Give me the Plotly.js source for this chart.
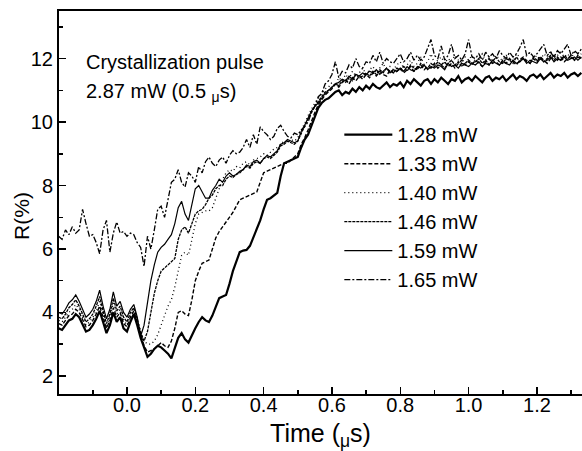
<!DOCTYPE html>
<html>
<head>
<meta charset="utf-8">
<script src="https://cdn.plot.ly/plotly-3.0.1.min.js"></script>
<style>html,body{margin:0;padding:0;background:#fff;}#chart{width:582px;height:451px;}</style>
</head>
<body>
<div id="chart"></div>
<script>
// time grid: -0.20 to 1.33 us, sampled every 0.01 us
const tStart = -0.20, tStep = 0.01, nPts = 154;
const time = [];
for (let i = 0; i < nPts; i++) time.push(+(tStart + i * tStep).toFixed(2));

const seriesNames = ["1.28 mW", "1.33 mW", "1.40 mW", "1.46 mW", "1.59 mW", "1.65 mW"];

const r128 = [
 3.50,3.45,3.60,3.75,3.80,3.95,3.85,3.60,3.40,3.45,
 3.60,3.80,4.05,3.70,3.35,3.60,4.00,3.70,3.85,3.50,
 3.40,3.70,3.95,3.60,3.20,2.90,2.60,2.70,2.85,2.95,
 2.90,2.80,2.70,2.55,2.90,3.20,3.35,3.15,3.05,3.30,
 3.50,3.70,3.85,3.75,3.70,3.90,4.20,4.45,4.50,4.55,
 4.90,5.30,5.60,5.90,5.95,5.97,6.10,6.35,6.60,6.90,
 7.25,7.55,7.60,7.70,7.77,8.30,8.70,8.75,8.80,8.85,
 8.90,9.20,9.45,9.60,9.90,10.15,10.45,10.60,10.70,10.75,
 10.85,10.95,11.00,10.85,10.95,10.90,11.05,10.95,11.10,11.00,
 11.15,11.05,11.20,11.10,11.05,11.15,11.25,11.10,11.20,11.15,
 11.25,11.10,11.30,11.20,11.35,11.25,11.15,11.30,11.35,11.20,
 11.35,11.25,11.40,11.30,11.20,11.35,11.30,11.45,11.25,11.35,
 11.40,11.30,11.45,11.35,11.25,11.40,11.45,11.30,11.40,11.35,
 11.45,11.30,11.40,11.50,11.35,11.45,11.40,11.30,11.45,11.50,
 11.40,11.50,11.35,11.45,11.55,11.40,11.50,11.45,11.55,11.40,
 11.50,11.55,11.45,11.55
];
const r133 = [
 3.65,3.60,3.75,3.90,3.95,4.10,4.00,3.75,3.55,3.60,
 3.75,3.95,4.20,3.85,3.50,3.75,4.15,3.85,4.00,3.65,
 3.55,3.85,4.05,3.70,3.30,2.95,2.75,2.80,2.85,2.95,
 3.05,2.95,2.90,3.10,3.50,4.00,4.05,3.95,3.90,4.40,
 5.00,5.30,5.55,5.60,5.65,6.00,6.35,6.55,6.70,6.85,
 7.00,7.15,7.35,7.55,7.60,7.65,7.70,7.75,7.80,8.10,
 8.40,8.45,8.50,8.55,8.60,8.65,8.70,8.70,8.80,8.90,
 9.00,9.30,9.50,9.75,10.05,10.30,10.55,10.70,10.85,10.95,
 11.05,11.20,11.10,11.25,11.35,11.20,11.40,11.30,11.45,11.35,
 11.50,11.40,11.55,11.45,11.60,11.50,11.45,11.65,11.55,11.60,
 11.70,11.55,11.65,11.75,11.60,11.70,11.80,11.65,11.75,11.70,
 11.85,11.70,11.80,11.90,11.75,11.85,11.70,11.85,11.95,11.80,
 11.90,11.80,11.95,11.85,11.75,11.90,12.00,11.85,11.90,11.80,
 11.95,11.85,12.00,11.90,11.80,11.95,12.05,11.90,11.85,12.00,
 11.90,12.05,11.95,11.85,12.00,12.10,11.95,12.05,11.90,12.00,
 12.10,11.95,12.05,12.00
];
const r140 = [
 3.75,3.70,3.85,4.00,4.10,4.25,4.10,3.85,3.60,3.70,
 3.85,4.05,4.35,3.95,3.55,3.85,4.30,3.95,4.10,3.75,
 3.60,3.90,4.10,3.75,3.40,3.10,3.00,3.00,3.10,3.30,
 3.60,3.90,4.20,4.40,4.80,5.30,5.80,5.90,5.80,6.30,
 6.80,7.10,7.15,7.20,7.20,7.30,7.60,7.90,8.20,8.40,
 8.50,8.45,8.60,8.55,8.70,8.75,8.65,8.80,8.85,8.90,
 9.00,8.95,9.05,9.15,9.20,9.30,9.40,9.35,9.45,9.40,
 9.50,9.75,9.95,10.20,10.40,10.60,10.75,10.90,11.05,11.10,
 11.25,11.15,11.40,11.30,11.50,11.35,11.60,11.45,11.55,11.70,
 11.50,11.65,11.75,11.55,11.70,11.85,11.60,11.75,11.65,11.80,
 11.90,11.70,11.80,11.95,11.75,11.85,12.05,11.80,11.90,12.15,
 11.85,11.95,12.05,11.85,12.00,11.90,12.10,11.95,11.85,12.05,
 11.95,12.10,11.90,12.00,12.15,11.95,12.05,11.90,12.10,12.00,
 11.95,12.10,12.00,11.90,12.15,12.05,11.95,12.10,12.20,12.00,
 12.10,11.95,12.15,12.05,12.25,12.00,12.10,12.20,12.05,12.15,
 12.00,12.20,12.10,12.15
];
const r146 = [
 3.85,3.80,3.95,4.15,4.25,4.40,4.20,3.95,3.70,3.80,
 3.95,4.20,4.50,4.05,3.65,3.95,4.45,4.05,4.20,3.85,
 3.70,4.00,4.15,3.80,3.35,3.10,3.40,4.00,4.60,5.00,
 5.30,5.40,5.50,5.60,5.70,6.30,6.60,6.70,6.50,6.80,
 7.10,7.20,7.25,7.40,7.60,7.70,7.90,8.00,8.00,8.20,
 8.30,8.25,8.35,8.40,8.50,8.60,8.55,8.70,8.75,8.70,
 8.85,8.90,8.85,8.95,9.05,9.25,9.30,9.40,9.35,9.30,
 9.40,9.65,9.90,10.10,10.30,10.50,10.65,10.80,10.95,11.00,
 11.10,11.20,11.15,11.30,11.25,11.40,11.30,11.50,11.40,11.45,
 11.55,11.45,11.60,11.50,11.65,11.55,11.70,11.60,11.55,11.70,
 11.65,11.75,11.60,11.80,11.70,11.65,11.85,11.75,11.70,11.85,
 11.75,11.90,11.80,11.70,11.85,11.95,11.80,11.90,11.75,11.85,
 11.95,11.85,11.90,12.00,11.85,11.95,11.80,11.90,12.05,11.90,
 11.85,12.00,11.95,11.85,12.05,11.90,12.00,11.95,11.85,12.05,
 11.95,12.05,11.90,12.00,12.10,11.95,12.05,11.95,12.10,12.00,
 12.05,11.95,12.10,12.00
];
const r159 = [
 4.00,3.95,4.10,4.30,4.40,4.55,4.35,4.10,3.85,3.95,
 4.10,4.35,4.70,4.20,3.80,4.10,4.65,4.20,4.35,4.00,
 3.85,4.10,4.25,3.85,3.25,3.60,4.30,5.00,5.50,5.90,
 6.05,6.15,6.30,6.45,6.80,7.30,7.50,7.10,6.90,7.40,
 7.90,8.00,7.80,7.60,7.60,7.85,8.00,8.20,8.10,8.30,
 8.40,8.30,8.35,8.45,8.50,8.65,8.60,8.75,8.80,8.70,
 8.85,8.95,8.90,9.00,9.10,9.30,9.35,9.45,9.40,9.35,
 9.40,9.70,9.90,10.15,10.35,10.50,10.60,10.75,10.90,11.00,
 11.10,11.20,11.25,11.35,11.30,11.45,11.35,11.50,11.45,11.55,
 11.50,11.60,11.55,11.65,11.50,11.60,11.70,11.55,11.65,11.60,
 11.70,11.60,11.75,11.65,11.60,11.75,11.70,11.80,11.65,11.75,
 11.70,11.80,11.75,11.65,11.85,11.75,11.80,11.70,11.85,11.80,
 11.75,11.85,11.80,11.90,11.75,11.85,11.80,11.95,11.85,11.80,
 11.90,11.85,11.80,11.95,11.85,11.90,12.00,11.85,11.95,11.90,
 11.85,12.00,11.90,11.95,12.05,11.90,12.00,11.95,12.05,11.95,
 12.00,12.05,11.95,12.05
];
const r165 = [
 6.40,6.30,6.60,6.45,6.70,6.50,6.60,7.25,6.80,6.40,
 6.45,6.20,5.85,6.60,6.90,5.90,6.50,6.85,6.50,6.55,
 6.40,6.50,6.45,6.20,6.05,5.45,6.40,6.00,6.60,7.25,
 7.35,7.00,7.55,8.10,8.20,8.50,8.10,7.95,8.40,8.30,
 8.10,8.60,8.40,8.75,8.90,8.70,8.60,8.80,8.90,8.70,
 8.95,9.10,9.00,9.05,9.20,9.45,9.20,9.60,9.30,9.85,
 9.70,9.60,9.45,9.55,9.80,9.90,9.70,9.55,9.50,9.65,
 9.60,9.75,9.85,10.00,10.30,10.50,10.80,10.90,11.20,11.30,
 11.50,11.90,11.40,11.60,11.55,11.80,11.70,12.00,11.75,11.70,
 11.90,11.85,12.10,11.90,12.20,11.85,12.00,11.90,11.85,12.00,
 12.15,11.90,12.00,12.20,11.95,12.10,11.95,12.05,12.30,12.60,
 12.10,12.00,12.40,11.95,12.10,12.45,12.00,12.10,11.95,12.15,
 12.60,12.05,12.00,12.15,11.95,12.20,12.05,12.15,12.00,12.25,
 12.10,12.00,12.20,12.05,12.15,12.35,12.60,12.10,12.20,12.05,
 12.15,12.30,12.45,12.10,12.20,12.05,12.25,12.15,12.30,12.45,
 12.10,12.25,12.15,12.30
];

const seriesValues = [r128, r133, r140, r146, r159, r165];
const dashes = ["solid", "4px,2px", "1px,3px", "3px,1px", "solid", "6px,2px,2px,2px"];
const widths = [2.2, 1.4, 1.3, 1.3, 1.2, 1.3];

const traces = seriesValues.map((vals, k) => ({
  x: time, y: vals, type: "scatter", mode: "lines", name: seriesNames[k],
  line: { color: "#000", width: widths[k], dash: dashes[k] }
}));

const fontFam = '"Liberation Sans", Arial, sans-serif';
const layout = {
  width: 582, height: 451,
  margin: { l: 59, r: 0, t: 11, b: 57 },
  paper_bgcolor: "#fff", plot_bgcolor: "#fff",
  font: { family: fontFam, color: "#000", size: 20 },
  showlegend: true,
  legend: {
    x: 0.536, y: 0.728, xanchor: "left", yanchor: "top",
    bgcolor: "rgba(0,0,0,0)", borderwidth: 0,
    font: { family: fontFam, size: 20, color: "#000" },
    itemwidth: 48, tracegroupgap: 0
  },
  xaxis: {
    range: [-0.199, 1.332], showgrid: false, zeroline: false,
    showline: true, linecolor: "#000", linewidth: 2, mirror: true,
    ticks: "inside", ticklen: 7, tickwidth: 1.5, tickcolor: "#000",
    tick0: 0, dtick: 0.2, tickformat: ".1f",
    minor: { ticks: "inside", ticklen: 4, dtick: 0.1, tickcolor: "#000", tickwidth: 1.5 },
    tickfont: { size: 20 }, ticklabelstandoff: -8,
    title: { text: "Time (<sub>μ</sub>s)", font: { size: 25 }, standoff: 10 }
  },
  yaxis: {
    range: [1.43, 13.5], showgrid: false, zeroline: false,
    showline: true, linecolor: "#000", linewidth: 2, mirror: false,
    ticks: "inside", ticklen: 7, tickwidth: 1.5, tickcolor: "#000",
    tick0: 0, dtick: 2,
    minor: { ticks: "inside", ticklen: 4, dtick: 1, tickcolor: "#000", tickwidth: 1.5 },
    tickfont: { size: 20 }
  },
  annotations: [
    { xref: "paper", yref: "paper", x: -0.0707, y: 0.465, xanchor: "center", yanchor: "middle",
      text: "R(%)", textangle: -90, showarrow: false, font: { size: 21 } },
    { xref: "paper", yref: "paper", x: 0.048, y: 0.867, xanchor: "left", yanchor: "middle",
      text: "Crystallization pulse", showarrow: false, font: { size: 20 } },
    { xref: "paper", yref: "paper", x: 0.048, y: 0.787, xanchor: "left", yanchor: "middle",
      text: "2.87 mW (0.5 <sub>μ</sub>s)", showarrow: false, font: { size: 20 } }
  ]
};

Plotly.newPlot("chart", traces, layout, { displayModeBar: false, staticPlot: true });
</script>
</body>
</html>
